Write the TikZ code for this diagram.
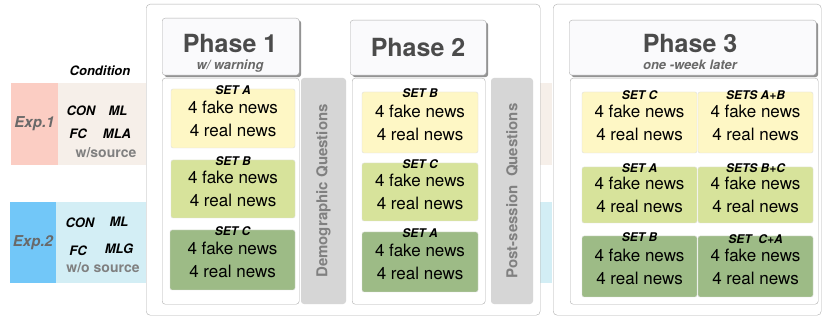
\documentclass[tikz,border=0pt]{standalone}
\usepackage{fontspec}
\setmainfont{TeX Gyre Heros}
\usepackage{xcolor}
\usetikzlibrary{positioning,shadows}
\definecolor{expone}{RGB}{251,205,195}
\definecolor{exponeband}{RGB}{246,239,233}
\definecolor{exptwo}{RGB}{114,199,248}
\definecolor{exptwoband}{RGB}{211,238,245}
\definecolor{framegray}{RGB}{175,175,175}
\definecolor{headfill}{RGB}{250,250,252}
\definecolor{bargray}{RGB}{214,214,214}
\definecolor{bartext}{RGB}{128,128,128}
\definecolor{darktext}{RGB}{75,75,75}
\definecolor{midtext}{RGB}{105,105,105}
\definecolor{setyellow}{RGB}{254,247,197}
\definecolor{setlight}{RGB}{215,227,155}
\definecolor{setdark}{RGB}{157,187,134}
\tikzset{
  band/.style={anchor=north west, inner sep=0pt, outer sep=0pt},
  frame/.style={draw=framegray, rounded corners=4pt, fill=white, anchor=north west, inner sep=0pt},
  head/.style={frame, rounded corners=3pt, fill=headfill,
    drop shadow={shadow xshift=2pt, shadow yshift=-2pt, fill=gray!85, opacity=1}},
  title/.style={text=darktext, font=\fontsize{25}{27}\selectfont\bfseries},
  subtitle/.style={text=midtext, font=\fontsize{13}{14}\selectfont\bfseries\itshape},
  qbar/.style={fill=bargray, rounded corners=3pt, rotate=90, inner sep=0pt,
    text=bartext, font=\fontsize{15}{16}\selectfont\bfseries},
  setbox/.style={draw=gray!25, rounded corners=2pt, align=center, inner sep=0pt,
    font=\fontsize{17}{23}\selectfont},
  setlbl/.style={font=\fontsize{12}{13}\selectfont\bfseries\itshape, inner sep=0pt, yshift=-1pt},
  cond/.style={font=\fontsize{13}{14}\selectfont\bfseries\itshape, inner sep=0pt},
  expname/.style={text=midtext, font=\fontsize{15}{16}\selectfont\bfseries\itshape},
  source/.style={text=gray, font=\fontsize{14}{15}\selectfont\bfseries, inner sep=0pt}
}
\begin{document}
\begin{tikzpicture}[x=1pt, y=-1pt]
  \useasboundingbox (0,0) rectangle (827,320);
  % experiment bands
  \node[band, fill=exponeband, minimum width=494, minimum height=82] (band1) at (58,83) {};
  \node[band, fill=expone, minimum width=47, minimum height=82] (exp1) at (11,83) {};
  \node[expname] (exp1t) at (exp1.center) {Exp.1};
  \node[band, fill=exptwoband, minimum width=496, minimum height=81] (band2) at (56,202) {};
  \node[band, fill=exptwo, minimum width=46, minimum height=81] (exp2) at (10,202) {};
  \node[expname] (exp2t) at (exp2.center) {Exp.2};
  \node[cond] (condhead) at (100,71) {Condition};
  \node[cond] (con1) at (81,111) {CON};
  \node[cond] (ml1) at (118,111) {ML};
  \node[cond] (fc1) at (78,134) {FC};
  \node[cond] (mla1) at (117,134) {MLA};
  \node[source] (src1) at (106,153) {w/source};
  \node[cond] (con2) at (80,223) {CON};
  \node[cond] (ml2) at (119,222) {ML};
  \node[cond] (fc2) at (78,251) {FC};
  \node[cond] (mlg2) at (119,249) {MLG};
  \node[source] (src2) at (103,268) {w/o source};
  % outer frames
  \node[frame, minimum width=394, minimum height=311] (frameA) at (146,4) {};
  \node[frame, minimum width=268, minimum height=311] (frameB) at (553,4) {};
  % phase 1
  \node[head, minimum width=137, minimum height=57] (head1) at (162,18) {};
  \node[title] (title1) at (230,44) {Phase 1};
  \node[subtitle] (sub1) at (230,66) {w/ warning};
  \node[frame, rounded corners=3pt, minimum width=137, minimum height=226] (body1) at (162,78) {};
  \node[setbox, fill=setyellow, minimum width=124, minimum height=59] (p1a) at (233,118.5) {4 fake news\\4 real news};
  \node[setlbl] (p1al) at (p1a.north) {SET A};
  \node[setbox, fill=setlight, minimum width=124, minimum height=58] (p1b) at (233,189) {4 fake news\\4 real news};
  \node[setlbl] (p1bl) at (p1b.north) {SET B};
  \node[setbox, fill=setdark, minimum width=125, minimum height=60] (p1c) at (232.5,260) {4 fake news\\4 real news};
  \node[setlbl] (p1cl) at (p1c.north) {SET C};
  \node[qbar, minimum width=226, minimum height=45] (demo) at (323.5,191) {Demographic Questions};
  % phase 2
  \node[head, minimum width=136, minimum height=55] (head2) at (350,20) {};
  \node[title] (title2) at (418,48) {Phase 2};
  \node[frame, rounded corners=3pt, minimum width=133, minimum height=226] (body2) at (352,78) {};
  \node[setbox, fill=setyellow, minimum width=116, minimum height=61] (p2b) at (420,122.5) {4 fake news\\4 real news};
  \node[setlbl] (p2bl) at (p2b.north) {SET B};
  \node[setbox, fill=setlight, minimum width=116, minimum height=58] (p2c) at (420,192) {4 fake news\\4 real news};
  \node[setlbl] (p2cl) at (p2c.north) {SET C};
  \node[setbox, fill=setdark, minimum width=116, minimum height=60] (p2a) at (420,262) {4 fake news\\4 real news};
  \node[setlbl] (p2al) at (p2a.north) {SET A};
  \node[qbar, minimum width=226, minimum height=42] (post) at (512,191) {Post-session~~Questions};
  % phase 3
  \node[head, minimum width=247, minimum height=55] (head3) at (569,20) {};
  \node[title] (title3) at (690,44) {Phase 3};
  \node[subtitle] (sub3) at (690,65) {one -week later};
  \node[frame, rounded corners=3pt, minimum width=248, minimum height=226] (body3) at (570,78) {};
  \node[setbox, fill=setyellow, minimum width=115, minimum height=61] (p3c) at (639.5,122.5) {4 fake news\\4 real news};
  \node[setlbl, yshift=-2pt] (p3cl) at (p3c.north) {SET C};
  \node[setbox, fill=setyellow, minimum width=115, minimum height=61] (p3ab) at (755.5,122.5) {4 fake news\\4 real news};
  \node[setlbl, yshift=-2pt] (p3abl) at (p3ab.north) {SETS A+B};
  \node[setbox, fill=setlight, minimum width=115, minimum height=56] (p3a) at (639.5,195) {4 fake news\\4 real news};
  \node[setlbl] (p3al) at (p3a.north) {SET A};
  \node[setbox, fill=setlight, minimum width=115, minimum height=56] (p3bc) at (755.5,195) {4 fake news\\4 real news};
  \node[setlbl] (p3bcl) at (p3bc.north) {SETS B+C};
  \node[setbox, fill=setdark, minimum width=115, minimum height=61] (p3b) at (639.5,266.5) {4 fake news\\4 real news};
  \node[setlbl] (p3bl) at (p3b.north) {SET B};
  \node[setbox, fill=setdark, minimum width=115, minimum height=61] (p3ca) at (755.5,266.5) {4 fake news\\4 real news};
  \node[setlbl, yshift=-2pt] (p3cal) at (p3ca.north) {SET~~C+A};
\end{tikzpicture}
\end{document}
